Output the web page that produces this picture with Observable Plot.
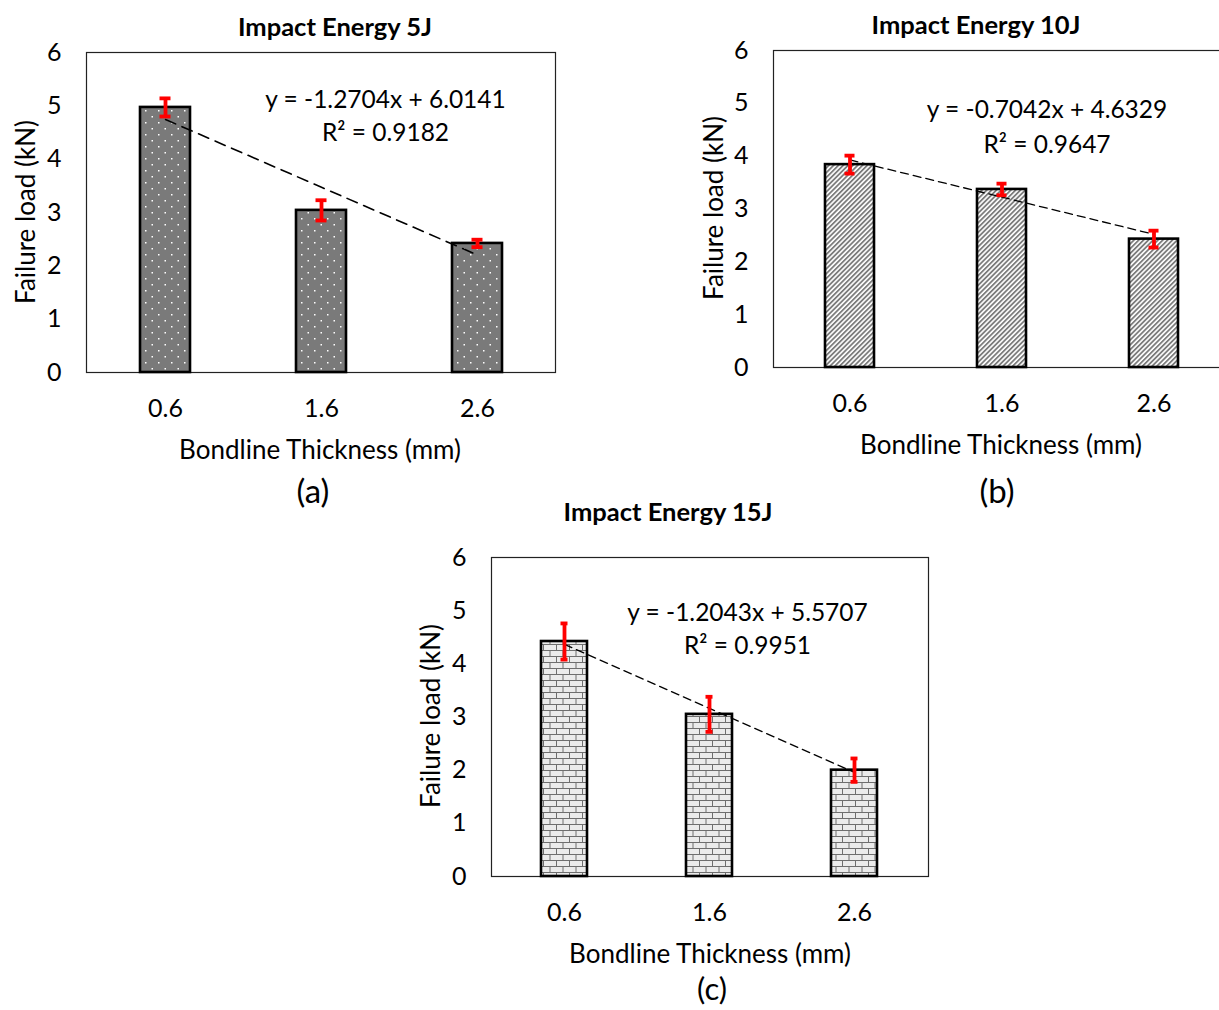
<!DOCTYPE html>
<html>
<head>
<meta charset="utf-8">
<script src="https://cdn.jsdelivr.net/npm/d3@7"></script>
<script src="https://cdn.jsdelivr.net/npm/@observablehq/plot@0.6"></script>
<style>
  html, body { margin: 0; padding: 0; background: #fff; overflow: hidden; }
  #root { position: relative; width: 1219px; height: 1010px; font-family: Lato, "Open Sans", sans-serif; color: #000; overflow: hidden; }
  .lbl { position: absolute; white-space: nowrap; transform: translate(-50%, -50%); line-height: 1; }
  .ttl { font-weight: bold; font-size: 25.5px; }
  .ax { font-size: 26px; }
  .cap { font-size: 33px; }
  .cap2 { font-size: 31px; }
  .rot { transform: translate(-50%, -50%) rotate(-90deg); }
  .panel { position: absolute; }
</style>
</head>
<body>
<svg width="0" height="0" style="position:absolute">
  <defs>
    <pattern id="pDots" width="13" height="12" patternUnits="userSpaceOnUse">
      <rect width="13" height="12" fill="#7a7a7a"/>
      <rect x="2" y="2" width="1.5" height="1.5" fill="#fff"/>
      <rect x="8.5" y="8" width="1.5" height="1.5" fill="#fff"/>
    </pattern>
    <pattern id="pHatch" width="3.4" height="10" patternUnits="userSpaceOnUse" patternTransform="rotate(45)">
      <rect width="3.4" height="10" fill="#fff"/>
      <rect width="1.8" height="10" fill="#7c7c7c"/>
    </pattern>
    <pattern id="pBrick" width="13" height="12" patternUnits="userSpaceOnUse">
      <rect width="13" height="12" fill="#ebebeb"/>
      <path d="M0 0.5H13M0 6.5H13M0.5 0V6.5M7 6V12" stroke="#6e6e6e" stroke-width="1" fill="none"/>
    </pattern>
  </defs>
</svg>
<div id="root"></div>
<script>
// ---- data ----
const thickness = ["0.6", "1.6", "2.6"];
const titles = ["Impact Energy 5J", "Impact Energy 10J", "Impact Energy 15J"];
const captions = ["(a)", "(b)", "(c)"];
const loads5 = [4.97, 3.04, 2.42];
const err5 = [0.17, 0.19, 0.07];
const loads10 = [3.84, 3.37, 2.43];
const err10 = [0.17, 0.11, 0.16];
const loads15 = [4.42, 3.05, 2.0];
const err15 = [0.34, 0.33, 0.22];
const slopes = [-1.2704, -0.7042, -1.2043];
const intercepts = [6.0141, 4.6329, 5.5707];
const r2 = ["0.9182", "0.9647", "0.9951"];
const yTicks = [0, 1, 2, 3, 4, 5, 6];
const xLabel = "Bondline Thickness (mm)";
const yLabel = "Failure load (kN)";

const root = document.getElementById("root");

function addLabel(text, cls, cx, cy) {
  const d = document.createElement("div");
  d.className = "lbl " + cls;
  d.textContent = text;
  d.style.left = cx + "px";
  d.style.top = cy + "px";
  root.appendChild(d);
}

function panel(cfg) {
  const {loads, errs, k, fill, pos, eqY, eqDx, lineHeight, dash, trendWidth} = cfg;
  const data = thickness.map((t, i) => ({
    t,
    v: loads[i],
    lo: loads[i] - errs[i],
    hi: loads[i] + errs[i],
    trend: slopes[k] * (i + 1) + intercepts[k]
  }));
  const eqText = `y = ${slopes[k].toFixed(4)}x + ${intercepts[k].toFixed(4)}\nR² = ${r2[k]}`;
  const chart = Plot.plot({
    width: pos.width,
    height: pos.height,
    marginLeft: pos.ml,
    marginRight: pos.mr,
    marginTop: pos.mt,
    marginBottom: pos.mb,
    style: {fontFamily: "Lato, 'Open Sans', sans-serif", fontSize: "25px", background: "transparent", overflow: "visible", color: "#000"},
    x: {type: "band", domain: thickness, paddingInner: 0.68, paddingOuter: 0.34},
    y: {domain: [0, 6]},
    marks: [
      Plot.frame({stroke: "#222", strokeWidth: 1.2}),
      Plot.barY(data, {x: "t", y: "v", fill, stroke: "#000", strokeWidth: 2.6}),
      Plot.line(data, {x: "t", y: "trend", stroke: "#000", strokeWidth: trendWidth, strokeDasharray: dash}),
      Plot.ruleX(data, {x: "t", y1: "lo", y2: "hi", stroke: "#f00", strokeWidth: 3.8}),
      Plot.tickY(data, {x: "t", y: "lo", stroke: "#f00", strokeWidth: 3.8, insetLeft: 19.5, insetRight: 19.5}),
      Plot.tickY(data, {x: "t", y: "hi", stroke: "#f00", strokeWidth: 3.8, insetLeft: 19.5, insetRight: 19.5}),
      Plot.text([eqText], {x: () => thickness[1], y: () => eqY, text: d => d, dx: eqDx, lineHeight, fontSize: 24.5, fill: "#000", textAnchor: "middle"}),
      Plot.axisY({ticks: yTicks, tickSize: 0, tickPadding: 25, label: null, tickFormat: d3.format("d")}),
      Plot.axisX({tickSize: 0, tickPadding: 27, label: null})
    ]
  });
  chart.classList.add("panel");
  chart.style.left = pos.left + "px";
  chart.style.top = pos.top + "px";
  root.appendChild(chart);
}

// (a)
panel({loads: loads5, errs: err5, k: 0, fill: "url(#pDots)",
  pos: {left: 0, top: 0, width: 580, height: 420, ml: 86, mr: 25, mt: 52, mb: 48},
  eqY: 4.85, eqDx: 64, lineHeight: 1.35, dash: "11,7", trendWidth: 1.6});
// (b)
panel({loads: loads10, errs: err10, k: 1, fill: "url(#pHatch)",
  pos: {left: 690, top: 0, width: 560, height: 415, ml: 83, mr: 20, mt: 50, mb: 48},
  eqY: 4.61, eqDx: 45, lineHeight: 1.43, dash: "8,5", trendWidth: 1.3});
// (c)
panel({loads: loads15, errs: err15, k: 2, fill: "url(#pBrick)",
  pos: {left: 400, top: 500, width: 550, height: 424, ml: 91, mr: 22, mt: 57, mb: 48},
  eqY: 4.69, eqDx: 38, lineHeight: 1.35, dash: "8,5", trendWidth: 1.3});

// titles, axis labels, captions
addLabel(titles[0], "ttl", 335, 27);
addLabel(yLabel, "ax rot", 25, 212);
addLabel(xLabel, "ax", 320, 449);
addLabel(captions[0], "cap", 313, 490);

addLabel(titles[1], "ttl", 976, 25);
addLabel(yLabel, "ax rot", 713, 208);
addLabel(xLabel, "ax", 1001, 444);
addLabel(captions[1], "cap", 997, 490);

addLabel(titles[2], "ttl", 668, 512);
addLabel(yLabel, "ax rot", 430, 716);
addLabel(xLabel, "ax", 710, 953);
addLabel(captions[2], "cap2", 712, 988);
</script>
</body>
</html>
